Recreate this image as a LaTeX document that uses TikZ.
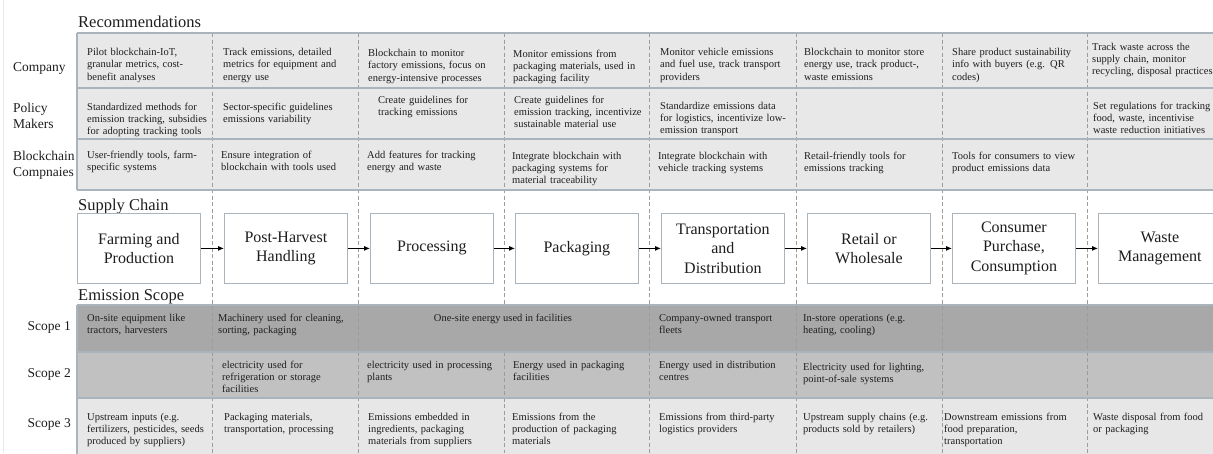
\documentclass[tikz,border=0pt]{standalone}
\usepackage{fontspec}
\setmainfont{Liberation Serif}
\usetikzlibrary{arrows.meta}

\definecolor{ink}{HTML}{1E1E1E}
\definecolor{rule}{HTML}{A9B4BC}
\definecolor{divider}{HTML}{9C9C9C}
\definecolor{recfill}{HTML}{E8E8E8}
\definecolor{scopeone}{HTML}{A8A8A8}
\definecolor{scopetwo}{HTML}{C1C1C1}
\definecolor{scopethree}{HTML}{E7E7E7}

\tikzset{
  cell/.style={anchor=base west, text width=150pt, align=left, inner sep=0pt,
               font=\fontsize{10.5}{12.3}\selectfont, text=ink},
  rowlabel/.style={anchor=base west, text width=75pt, align=left, inner sep=0pt,
               font=\fontsize{13.5}{16}\selectfont, text=ink},
  scopelabel/.style={anchor=base east, inner sep=0pt,
               font=\fontsize{13.5}{16}\selectfont, text=ink},
  section/.style={anchor=base west, inner sep=0pt,
               font=\fontsize{16.5}{19}\selectfont, text=ink},
  stage/.style={draw=rule, line width=0.8pt, fill=white, anchor=north west,
               minimum width=123pt, minimum height=70pt, inner sep=0pt,
               align=center, font=\fontsize{16}{19.5}\selectfont, text=ink},
  flow/.style={-{Latex[length=6pt,width=5pt]}, line width=0.9pt, draw=black},
  colrule/.style={draw=divider, line width=0.8pt, dash pattern=on 4pt off 2.5pt},
  rowrule/.style={draw=rule, line width=1.4pt}
}

\begin{document}
\begin{tikzpicture}[x=1pt,y=-1pt]
\useasboundingbox (0,0) rectangle (1213,453);
\clip (0,0) rectangle (1213,453);
\fill[white] (0,0) rectangle (1213,453);
\draw[gray!18, line width=0.6pt] (3,0) -- (3,453);

% ---- row fills ----
\fill[recfill] (77,33) rectangle (1230,190);
\fill[scopeone] (77,305) rectangle (1230,352);
\fill[scopetwo] (77,352) rectangle (1230,398);
\fill[scopethree] (77,398) rectangle (1230,460);

% ---- column dividers ----
\foreach \cx in {212,358,649,796,942,1087}
  \draw[colrule] (\cx,33) -- (\cx,453);
\draw[colrule] (504,33) -- (504,305);
\draw[colrule] (504,352) -- (504,453);

% ---- row rules ----
\foreach \ry in {33,88,139,190,305,352,398}
  \draw[rowrule] (77,\ry) -- (1230,\ry);
\draw[rowrule] (77,33) -- (77,190);
\draw[rowrule] (77,305) -- (77,460);

% ---- section titles ----
\node[section] (tRec) at (78,27) {Recommendations};
\node[section] (tSup) at (78,210) {Supply Chain};
\node[section] (tEmi) at (78,300) {Emission Scope};

% ---- row labels ----
\node[rowlabel] (lCo) at (13,71) {Company};
\node[rowlabel] (lPo) at (13,112) {Policy\\Makers};
\node[rowlabel] (lBc) at (13,160) {Blockchain\\Compnaies};
\node[scopelabel] (lS1) at (71,330) {Scope 1};
\node[scopelabel] (lS2) at (71,377) {Scope 2};
\node[scopelabel] (lS3) at (71,427) {Scope 3};

% ---- recommendations: company ----
\node[cell] (co1) at (87,55.5) {Pilot blockchain-IoT,\\granular metrics, cost-\\benefit analyses};
\node[cell] (co2) at (223,55.5) {Track emissions, detailed\\metrics for equipment and\\energy use};
\node[cell] (co3) at (368,56.5) {Blockchain to monitor\\factory emissions, focus on\\energy-intensive processes};
\node[cell] (co4) at (513,57) {Monitor emissions from\\packaging materials, used in\\packaging facility};
\node[cell] (co5) at (660,55.5) {Monitor vehicle emissions\\and fuel use, track transport\\providers};
\node[cell] (co6) at (804,55.5) {Blockchain to monitor store\\energy use, track product-,\\waste emissions};
\node[cell] (co7) at (952,55.5) {Share product sustainability\\info with buyers (e.g. QR\\codes)};
\node[cell] (co8) at (1092,50) {Track waste across the\\supply chain, monitor\\recycling, disposal practices};

% ---- recommendations: policy makers ----
\node[cell] (po1) at (87,110) {Standardized methods for\\emission tracking, subsidies\\for adopting tracking tools};
\node[cell] (po2) at (223,110) {Sector-specific guidelines\\emissions variability};
\node[cell] (po3) at (378,103) {Create guidelines for\\tracking emissions};
\node[cell] (po4) at (514,103) {Create guidelines for\\emission tracking, incentivize\\sustainable material use};
\node[cell] (po5) at (660,109) {Standardize emissions data\\for logistics, incentivize low-\\emission transport};
\node[cell] (po8) at (1093,109) {Set regulations for tracking\\food, waste, incentivise\\waste reduction initiatives};

% ---- recommendations: blockchain companies ----
\node[cell] (bc1) at (87,158) {User-friendly tools, farm-\\specific systems};
\node[cell] (bc2) at (221,158) {Ensure integration of\\blockchain with tools used};
\node[cell] (bc3) at (367,158) {Add features for tracking\\energy and waste};
\node[cell] (bc4) at (512,159) {Integrate blockchain with\\packaging systems for\\material traceability};
\node[cell] (bc5) at (658,159) {Integrate blockchain with\\vehicle tracking systems};
\node[cell] (bc6) at (804,159) {Retail-friendly tools for\\emissions tracking};
\node[cell] (bc7) at (952,159) {Tools for consumers to view\\product emissions data};

% ---- supply chain stages ----
\node[stage] (s1) at (77,213)   {Farming and\\Production};
\node[stage] (s2) at (224,213)  {Post-Harvest\\Handling};
\node[stage] (s3) at (370,213)  {Processing};
\node[stage] (s4) at (515,213)  {Packaging};
\node[stage] (s5) at (661,213)  {Transportation\\and\\Distribution};
\node[stage] (s6) at (807,213)  {Retail or\\Wholesale};
\node[stage] (s7) at (952,213)  {Consumer\\Purchase,\\Consumption};
\node[stage] (s8) at (1098,213) {Waste\\Management};

\foreach \a/\b in {s1/s2,s2/s3,s3/s4,s4/s5,s5/s6,s6/s7,s7/s8}
  \draw[flow] (\a.east) -- (\b.west);

% ---- scope 1 ----
\node[cell] (e11) at (87,321) {On-site equipment like\\tractors, harvesters};
\node[cell] (e12) at (218,321) {Machinery used for cleaning,\\sorting, packaging};
\node[anchor=base, inner sep=0pt, font=\fontsize{10.5}{12.3}\selectfont, text=ink] (e13) at (503,321) {One-site energy used in facilities};
\node[cell] (e15) at (659,321) {Company-owned transport\\fleets};
\node[cell] (e16) at (803,321) {In-store operations (e.g.\\heating, cooling)};

% ---- scope 2 ----
\node[cell] (e22) at (222,368) {electricity used for\\refrigeration or storage\\facilities};
\node[cell] (e23) at (367,368) {electricity used in processing\\plants};
\node[cell] (e24) at (513,368) {Energy used in packaging\\facilities};
\node[cell] (e25) at (659,368) {Energy used in distribution\\centres};
\node[cell] (e26) at (803,370) {Electricity used for lighting,\\point-of-sale systems};

% ---- scope 3 ----
\node[cell] (e31) at (87,420) {Upstream inputs (e.g.\\fertilizers, pesticides, seeds\\produced by suppliers)};
\node[cell] (e32) at (224,420) {Packaging materials,\\transportation, processing};
\node[cell] (e33) at (368,420) {Emissions embedded in\\ingredients, packaging\\materials from suppliers};
\node[cell] (e34) at (512,420) {Emissions from the\\production of packaging\\materials};
\node[cell] (e35) at (659,420) {Emissions from third-party\\logistics providers};
\node[cell] (e36) at (803,420) {Upstream supply chains (e.g.\\products sold by retailers)};
\node[cell] (e37) at (944,420) {Downstream emissions from\\food preparation,\\transportation};
\node[cell] (e38) at (1093,420) {Waste disposal from food\\or packaging};
\end{tikzpicture}
\end{document}
